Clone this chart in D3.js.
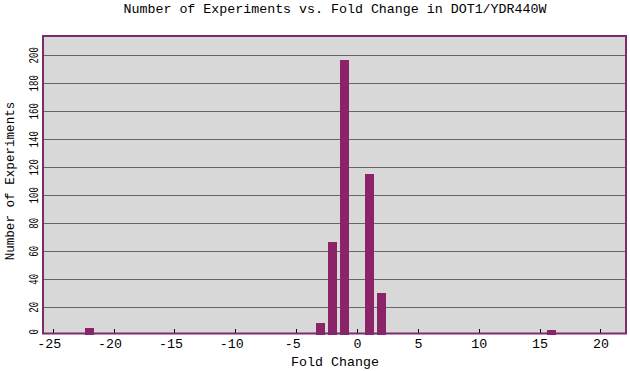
<!DOCTYPE html>
<html>
<head>
<meta charset="utf-8">
<script src="https://cdn.jsdelivr.net/npm/d3@7"></script>
<style>
  body { margin: 0; background: #fff; }
  text { font-family: "Liberation Mono", "DejaVu Sans Mono", monospace; fill: #000; }
</style>
</head>
<body>
<svg id="chart" width="630" height="371"></svg>
<script>
// Data
const foldChange = [-22, -3, -2, -1, 1, 2, 16];
const experiments = [5, 9, 67, 197, 115, 30, 4];
const xTicks = [-25, -20, -15, -10, -5, 0, 5, 10, 15, 20];
const yTicks = [0, 20, 40, 60, 80, 100, 120, 140, 160, 180, 200];

const width = 630, height = 371;
const plotLeft = 43, plotRight = 626, plotTop = 36, plotBottom = 333.5;

const svg = d3.select('#chart');

const x = d3.scaleLinear().domain([-25.8, 22.1]).range([plotLeft, plotRight]);
const y = d3.scaleLinear().domain([0, 214]).range([335.3, 35.7]);

// plot background
svg.append('rect')
  .attr('x', plotLeft).attr('y', plotTop)
  .attr('width', plotRight - plotLeft).attr('height', plotBottom - plotTop)
  .attr('fill', '#d8d8d8');

// grid lines
svg.append('g')
  .attr('transform', 'translate(' + plotLeft + ',0)')
  .call(d3.axisLeft(y).tickValues(yTicks.filter(d => d > 0)).tickSize(-(plotRight - plotLeft)).tickFormat(''))
  .call(g => g.select('.domain').remove())
  .call(g => g.selectAll('line').attr('stroke', '#666').attr('shape-rendering', 'crispEdges'));

// bars
svg.append('g')
  .selectAll('rect')
  .data(foldChange)
  .join('rect')
  .attr('x', d => x(d - 0.37))
  .attr('width', d => x(d + 0.37) - x(d - 0.37))
  .attr('y', (d, i) => y(experiments[i]))
  .attr('height', (d, i) => y(0) - y(experiments[i]))
  .attr('fill', '#8b2368')
  .attr('shape-rendering', 'crispEdges');

// x axis ticks (inside)
svg.append('g')
  .attr('transform', 'translate(0,' + (plotBottom - 1) + ')')
  .call(d3.axisBottom(x).tickValues(xTicks).tickSizeInner(-4).tickSizeOuter(0)
    .tickFormat(d => d < 0 ? '-' + Math.abs(d) : String(d)))
  .call(g => g.select('.domain').remove())
  .call(g => g.selectAll('line').attr('stroke', '#000').attr('shape-rendering', 'crispEdges'))
  .call(g => g.selectAll('text')
    .attr('y', 15)
    .attr('dy', 0)
    .attr('dx', d => d < 0 ? -4 : 0)
    .style('font-size', '13.3px')
    .style('font-family', '"Liberation Mono", monospace'));

// frame
svg.append('rect')
  .attr('x', plotLeft).attr('y', plotTop)
  .attr('width', plotRight - plotLeft).attr('height', plotBottom - plotTop)
  .attr('fill', 'none')
  .attr('stroke', '#7d2b6c')
  .attr('stroke-width', 2);

// y tick labels, rotated
svg.append('g')
  .selectAll('text')
  .data(yTicks)
  .join('text')
  .attr('transform', d => 'translate(38,' + (d === 0 ? y(0) - 3.5 : y(d)) + ') rotate(-90)')
  .attr('text-anchor', 'middle')
  .attr('textLength', d => String(d).length * 5.4)
  .attr('lengthAdjust', 'spacingAndGlyphs')
  .style('font-size', '13px')
  .text(d => d);

// titles
svg.append('text')
  .attr('x', 335).attr('y', 13)
  .attr('text-anchor', 'middle')
  .style('font-size', '13.3px')
  .text('Number of Experiments vs. Fold Change in DOT1/YDR440W');

svg.append('text')
  .attr('x', 335).attr('y', 366)
  .attr('text-anchor', 'middle')
  .style('font-size', '13.3px')
  .text('Fold Change');

svg.append('text')
  .attr('transform', 'translate(14,181) rotate(-90)')
  .attr('text-anchor', 'middle')
  .style('font-size', '12.6px')
  .text('Number of Experiments');
</script>
</body>
</html>
